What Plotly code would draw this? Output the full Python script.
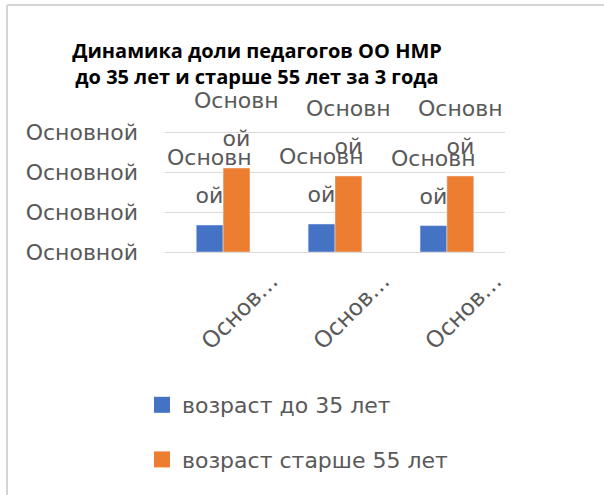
import plotly.graph_objects as go

# ---- data ----
categories = ["год 1", "год 2", "год 3"]
category_labels = ["Основ…", "Основ…", "Основ…"]
series_names = ["возраст до 35 лет", "возраст старше 55 лет"]
under_35 = [6.75, 7.0, 6.6]
over_55 = [21.0, 19.0, 19.0]
y_ticks = [0, 10, 20, 30]
y_tick_labels = ["Основной", "Основной", "Основной", "Основной"]
data_label = "Основной"
title_text = "Динамика доли педагогов ОО НМР<br>до 35 лет и старше 55 лет за 3 года"

# ---- style ----
W, H = 604, 495
Y_MAX = 30.5
L, R, B = 165, 99, 243
PW = W - L - R
PH = 120 * Y_MAX / 30
T = H - B - PH
FONT = "DejaVu Sans"
FS = 22
GRAY = "#595959"
BLUE = "#4472C4"
ORANGE = "#ED7D31"
COLORS = [BLUE, ORANGE]

fig = go.Figure()
for name, vals, col in zip(series_names, (under_35, over_55), COLORS):
    fig.add_trace(go.Bar(x=categories, y=vals, name=name, marker_color=col,
                         showlegend=False, legendgroup=name))
# legend entries with larger square swatches
for name, col in zip(series_names, COLORS):
    fig.add_trace(go.Scatter(x=[None], y=[None], mode="markers", name=name,
                             legendgroup=name,
                             marker=dict(symbol="square", size=17, color=col)))

# wrapped data labels above each bar
bar_px = PW / len(categories) * (1 - 0.52) / 2
wrapped = data_label[:6] + "<br>" + data_label[6:]
span_lbl = "<br>".join(
    f"<span style='font-size:{FS}px'>{part}</span>" for part in wrapped.split("<br>"))
for vals, shift in ((under_35, -bar_px / 2), (over_55, bar_px / 2)):
    for c, v in zip(categories, vals):
        fig.add_annotation(x=c, y=v, text=span_lbl, showarrow=False,
                           xshift=shift, yshift=15, yanchor="bottom",
                           font=dict(family=FONT, size=29, color=GRAY))

def px_x(p):
    return (p - L) / PW

def px_y(p):
    return 1 - (p - T) / PH

# chart frame (left and top border)
fig.add_shape(type="line", xref="paper", yref="paper",
              x0=px_x(7), x1=px_x(7), y0=px_y(5), y1=px_y(H + 5),
              line=dict(color="#d4d4d4", width=2))
fig.add_shape(type="line", xref="paper", yref="paper",
              x0=px_x(7), x1=px_x(W + 5), y0=px_y(5), y1=px_y(5),
              line=dict(color="#d4d4d4", width=2))

fig.update_layout(
    width=W, height=H,
    margin=dict(l=L, r=R, t=T, b=B, autoexpand=False),
    paper_bgcolor="white", plot_bgcolor="white",
    barmode="group", bargap=0.52, bargroupgap=0,
    font=dict(family=FONT, size=FS, color=GRAY),
    title=dict(text=title_text, xref="container", yref="container",
               x=257 / W, xanchor="center", y=1 - 58 / H, yanchor="top",
               font=dict(family="Open Sans", size=20, color="black", weight="bold")),
    showlegend=True,
    legend=dict(xref="container", yref="container", x=142 / W, xanchor="left",
                y=1 - 384 / H, yanchor="top", traceorder="grouped",
                tracegroupgap=23, font=dict(family=FONT, size=FS, color=GRAY),
                bgcolor="rgba(0,0,0,0)"),
    xaxis=dict(type="category", tickvals=categories, ticktext=category_labels,
               tickangle=-45, showgrid=False, showline=False, ticks="",
               tickfont=dict(family=FONT, size=FS + 1, color=GRAY),
               ticklabelshift=48, ticklabelstandoff=10),
    yaxis=dict(range=[0, Y_MAX], tickvals=y_ticks, ticktext=y_tick_labels,
               showgrid=True, gridcolor="#d9d9d9", gridwidth=1,
               zeroline=True, zerolinecolor="#d9d9d9", zerolinewidth=1,
               showline=False, ticks="", ticklabelstandoff=26,
               tickfont=dict(family=FONT, size=FS, color=GRAY)),
)

fig.write_html("out.html", config={"displayModeBar": False},
               post_script="document.body.style.margin='0';")
